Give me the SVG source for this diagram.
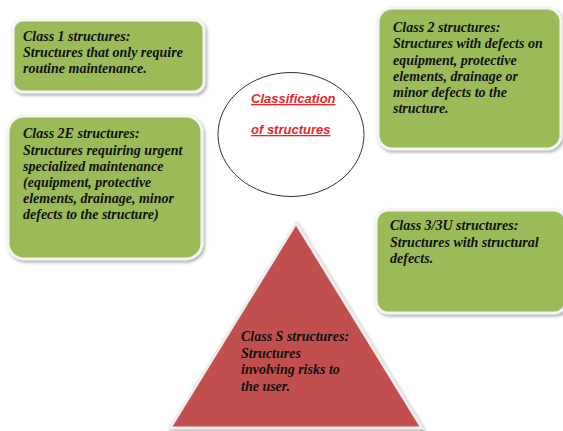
<svg xmlns="http://www.w3.org/2000/svg" width="563" height="431" viewBox="0 0 563 431">
  <defs>
    <filter id="shadow" x="-10%" y="-10%" width="125%" height="130%">
      <feDropShadow dx="1.5" dy="2" stdDeviation="1.5" flood-color="#7a7a7a" flood-opacity="0.6"/>
    </filter>
  </defs>
  <style>
    .box { fill: #9bbb59; stroke: #f4f4f4; stroke-width: 3; filter: url(#shadow); }
    .tri { fill: #c0504d; stroke: #eeeeee; stroke-width: 3; filter: url(#shadow); }
    .hub { fill: #ffffff; stroke: #333333; stroke-width: 1; }
    .lbl { font-family: "Liberation Serif", "Times New Roman", serif; font-size: 14px; font-weight: bold; font-style: italic; fill: #111111; }
    .title { font-family: "Liberation Sans", Arial, sans-serif; font-size: 13px; font-weight: bold; font-style: italic; fill: #e8262a; text-decoration: underline; }
  </style>
  <rect width="563" height="431" fill="#ffffff"/>

  <g id="connectors"></g>

  <g id="class1">
    <rect class="box" x="13" y="20" width="191" height="72" rx="10"/>
    <text class="lbl" x="23" y="41">Class 1 structures:</text>
    <text class="lbl" x="23" y="57">Structures that only require</text>
    <text class="lbl" x="23" y="73">routine maintenance.</text>
  </g>

  <g id="class2">
    <rect class="box" x="378" y="8" width="183" height="141" rx="14"/>
    <text class="lbl" x="393" y="32">Class 2 structures:</text>
    <text class="lbl" x="393" y="48">Structures with defects on</text>
    <text class="lbl" x="393" y="65">equipment, protective</text>
    <text class="lbl" x="393" y="81">elements, drainage or</text>
    <text class="lbl" x="393" y="97">minor defects to the</text>
    <text class="lbl" x="393" y="113">structure.</text>
  </g>

  <g id="class2e">
    <rect class="box" x="8" y="116" width="194" height="143" rx="16"/>
    <text class="lbl" x="23" y="138">Class 2E structures:</text>
    <text class="lbl" x="23" y="155">Structures requiring urgent</text>
    <text class="lbl" x="23" y="171">specialized maintenance</text>
    <text class="lbl" x="23" y="187">(equipment, protective</text>
    <text class="lbl" x="23" y="203">elements, drainage, minor</text>
    <text class="lbl" x="23" y="219">defects to the structure)</text>
  </g>

  <g id="hub">
    <ellipse class="hub" cx="291" cy="134.5" rx="73" ry="62"/>
    <text class="title" x="251" y="103">Classification</text>
    <text class="title" x="251" y="134">of structures</text>
  </g>

  <g id="class3">
    <rect class="box" x="376" y="210" width="190" height="103" rx="12"/>
    <text class="lbl" x="390" y="230">Class 3/3U structures:</text>
    <text class="lbl" x="390" y="247">Structures with structural</text>
    <text class="lbl" x="390" y="263">defects.</text>
  </g>

  <g id="classS">
    <polygon class="tri" points="296,223 422,428 170,428"/>
    <text class="lbl" x="241" y="341">Class S structures:</text>
    <text class="lbl" x="241" y="358">Structures</text>
    <text class="lbl" x="241" y="374">involving risks to</text>
    <text class="lbl" x="241" y="391">the user.</text>
  </g>
</svg>
